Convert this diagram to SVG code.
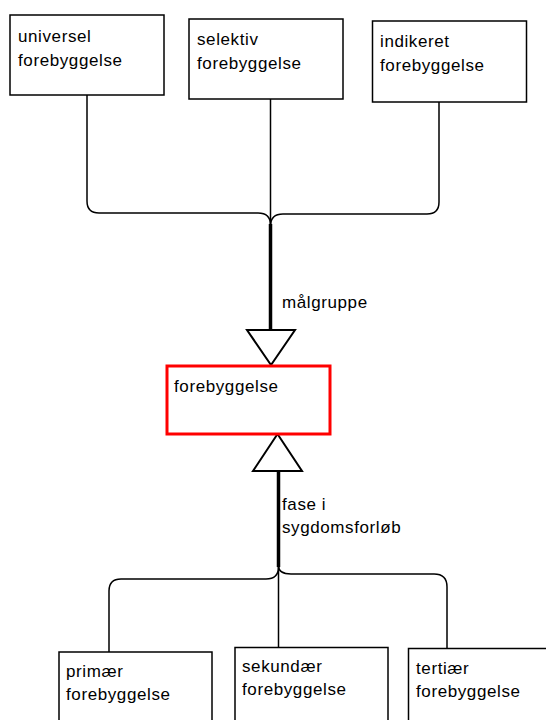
<svg xmlns="http://www.w3.org/2000/svg" width="546" height="720" viewBox="0 0 546 720">
  <style>
    .box { fill: #ffffff; stroke: #000000; stroke-width: 1.5; }
    .main { fill: #ffffff; stroke: #ff0000; stroke-width: 3; }
    .lbl { font-family: "Liberation Sans", Arial, sans-serif; font-size: 17px; letter-spacing: 0.6px; fill: #000000; }
    .thin { fill: none; stroke: #000000; stroke-width: 1.5; }
    .thick { fill: none; stroke: #000000; stroke-width: 3.5; }
    .tri { fill: #ffffff; stroke: #000000; stroke-width: 2; stroke-linejoin: miter; }
  </style>
  <rect width="546" height="720" fill="#ffffff"/>

  <g id="connectors">
    <!-- upper branch: target groups merge into one trunk -->
    <path class="thin" d="M87,95 V201 Q87,213 99,213 H258 Q270.5,213 270.5,225"/>
    <path class="thin" d="M439,102 V202 Q439,214 427,214 H283 Q270.5,214 270.5,226"/>
    <path class="thin" d="M270.5,99 V226"/>
    <path class="thick" d="M270.5,224 V331"/>
    <polygon class="tri" points="247,330 295,330 271,365"/>
    <text class="lbl" x="282" y="308">målgruppe</text>

    <!-- lower branch: disease phases merge into one trunk -->
    <path class="thick" d="M278.5,471 V567"/>
    <path class="thin" d="M109,652 V591 Q109,579 121,579 H266 Q278.5,579 278.5,567"/>
    <path class="thin" d="M447,648 V587 Q447,574 434,574 H291 Q278.5,574 278.5,566"/>
    <path class="thin" d="M278.5,566 V648"/>
    <polygon class="tri" points="253,471 302,471 277.5,434"/>
    <text class="lbl" x="282" y="510">fase i</text>
    <text class="lbl" x="282" y="533">sygdomsforløb</text>
  </g>

  <g id="universel">
    <rect class="box" x="10" y="15" width="154" height="80"/>
    <text class="lbl" x="18" y="42">universel</text>
    <text class="lbl" x="18" y="66">forebyggelse</text>
  </g>
  <g id="selektiv">
    <rect class="box" x="189" y="19" width="154" height="80"/>
    <text class="lbl" x="197" y="45">selektiv</text>
    <text class="lbl" x="197" y="69">forebyggelse</text>
  </g>
  <g id="indikeret">
    <rect class="box" x="372.5" y="21" width="154" height="81"/>
    <text class="lbl" x="380" y="47">indikeret</text>
    <text class="lbl" x="380" y="71">forebyggelse</text>
  </g>

  <g id="forebyggelse">
    <rect class="main" x="167" y="366" width="163" height="68"/>
    <text class="lbl" x="174" y="392">forebyggelse</text>
  </g>

  <g id="primaer">
    <rect class="box" x="59" y="652" width="153" height="80"/>
    <text class="lbl" x="66" y="677">primær</text>
    <text class="lbl" x="66" y="700">forebyggelse</text>
  </g>
  <g id="sekundaer">
    <rect class="box" x="235" y="647.5" width="153" height="85"/>
    <text class="lbl" x="242" y="672">sekundær</text>
    <text class="lbl" x="242" y="695">forebyggelse</text>
  </g>
  <g id="tertiaer">
    <rect class="box" x="408.5" y="648.5" width="150" height="85"/>
    <text class="lbl" x="416" y="674">tertiær</text>
    <text class="lbl" x="416" y="697">forebyggelse</text>
  </g>
</svg>
